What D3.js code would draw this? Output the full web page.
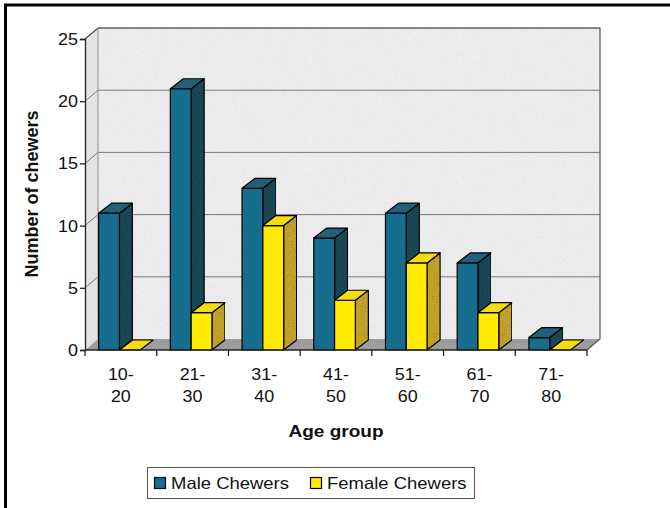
<!DOCTYPE html>
<html>
<head>
<meta charset="utf-8">
<script src="https://cdn.jsdelivr.net/npm/d3@7"></script>
<style>
  html, body { margin: 0; padding: 0; background: #fff; }
  svg { display: block; }
  text { font-family: "Liberation Sans", Arial, sans-serif; fill: #111; }
</style>
</head>
<body>
<svg id="chart" width="670" height="508"></svg>
<script>
// Chewers by age group
const categories = ["10-20", "21-30", "31-40", "41-50", "51-60", "61-70", "71-80"];
const maleValues = [11, 21, 13, 9, 11, 7, 1];
const femaleValues = [0, 3, 10, 4, 7, 3, 0];
const yTicks = [0, 5, 10, 15, 20, 25];
const seriesNames = ["Male Chewers", "Female Chewers"];

const svg = d3.select("#chart");
const W = 670, H = 508;

// plot geometry (front plane + depth offset of the 3-D box)
const plotLeft = 85, plotRight = 587, plotBase = 350, plotTop = 39;
const wallDx = 13, wallDy = -11;
const barDx = 13, barDy = -10;
const sx = 1.12; // horizontal text stretch

const x = d3.scaleBand().domain(categories).range([plotLeft, plotRight]).padding(0);
const y = d3.scaleLinear().domain([0, 25]).range([plotBase, plotTop]);

const palette = {
  male:   { front: "#176d8d", top: "#21607a", side: "#1c4756" },
  female: { front: "#ffea00", top: "#f3dc12", side: "#c2a22c" }
};

// speckle textures: light one for walls, stronger one for shaded faces
const defs = svg.append("defs");
function makeGrain(id, gray, gain, offset) {
  const f = defs.append("filter").attr("id", id)
    .attr("x", 0).attr("y", 0).attr("width", 1).attr("height", 1);
  f.append("feTurbulence").attr("type", "fractalNoise")
    .attr("baseFrequency", 0.9).attr("numOctaves", 2).attr("seed", 4).attr("result", "noise");
  f.append("feColorMatrix").attr("in", "noise").attr("type", "matrix")
    .attr("values", `0 0 0 0 ${gray}  0 0 0 0 ${gray}  0 0 0 0 ${gray}  0 0 0 ${gain} ${offset}`).attr("result", "dots");
  f.append("feComposite").attr("in", "dots").attr("in2", "SourceGraphic").attr("operator", "in").attr("result", "clipped");
  f.append("feMerge").selectAll("feMergeNode").data(["SourceGraphic", "clipped"]).join("feMergeNode")
    .attr("in", d => d);
}
makeGrain("grainWall", 0.55, -1.3, 0.55);
makeGrain("grain", 0, -1.4, 0.62);

const pts = a => a.map(p => p.join(",")).join(" ");

// outer frame
svg.append("rect").attr("x", 5.5).attr("y", 5).attr("width", W + 10).attr("height", H + 10)
  .attr("fill", "none").attr("stroke", "#000").attr("stroke-width", 3);

const box = svg.append("g");

// back wall
box.append("polygon")
  .attr("points", pts([[plotLeft + wallDx, plotTop + wallDy], [plotRight + wallDx, plotTop + wallDy],
                       [plotRight + wallDx, plotBase + wallDy], [plotLeft + wallDx, plotBase + wallDy]]))
  .attr("fill", "#ececec").attr("filter", "url(#grainWall)");
// left side wall
box.append("polygon")
  .attr("points", pts([[plotLeft, plotTop], [plotLeft + wallDx, plotTop + wallDy],
                       [plotLeft + wallDx, plotBase + wallDy], [plotLeft, plotBase]]))
  .attr("fill", "#e4e4e4").attr("filter", "url(#grainWall)");
// floor
box.append("polygon")
  .attr("points", pts([[plotLeft, plotBase], [plotLeft + wallDx, plotBase + wallDy],
                       [plotRight + wallDx, plotBase + wallDy], [plotRight, plotBase]]))
  .attr("fill", "#9d9d9d");

// gridlines on side wall and back wall
const grid = box.append("g").attr("stroke", "#7a7a7a").attr("stroke-width", 1).attr("fill", "none");
yTicks.filter(t => t > 0).forEach(t => {
  grid.append("polyline").attr("points", pts([[plotLeft, y(t)], [plotLeft + wallDx, y(t) + wallDy],
                                              [plotRight + wallDx, y(t) + wallDy]]));
});
// wall outlines
box.append("polyline")
  .attr("points", pts([[plotLeft, plotTop], [plotLeft + wallDx, plotTop + wallDy], [plotRight + wallDx, plotTop + wallDy],
                       [plotRight + wallDx, plotBase + wallDy], [plotRight, plotBase]]))
  .attr("fill", "none").attr("stroke", "#555").attr("stroke-width", 1.2);
box.append("line").attr("x1", plotLeft + wallDx).attr("x2", plotLeft + wallDx)
  .attr("y1", plotTop + wallDy).attr("y2", plotBase + wallDy).attr("stroke", "#8a8a8a");

// bars
const bw = x.bandwidth();
const barW = bw * 0.29;
const bars = [];
categories.forEach((c, i) => {
  const x0 = x(c) + bw * 0.19;
  bars.push({ x: x0, v: maleValues[i], s: "male" });
  bars.push({ x: x0 + barW, v: femaleValues[i], s: "female" });
});

const barG = svg.append("g").attr("stroke", "#000").attr("stroke-width", 1.2).attr("stroke-linejoin", "round");
bars.forEach(b => {
  const g = barG.append("g");
  const yv = y(b.v), col = palette[b.s];
  if (b.v > 0) {
    g.append("polygon")
      .attr("points", pts([[b.x + barW, yv], [b.x + barW + barDx, yv + barDy],
                           [b.x + barW + barDx, plotBase + barDy], [b.x + barW, plotBase]]))
      .attr("fill", col.side).attr("filter", "url(#grain)");
    g.append("rect").attr("x", b.x).attr("y", yv).attr("width", barW).attr("height", plotBase - yv)
      .attr("fill", col.front);
  }
  g.append("polygon")
    .attr("points", pts([[b.x, yv], [b.x + barDx, yv + barDy],
                         [b.x + barW + barDx, yv + barDy], [b.x + barW, yv]]))
    .attr("fill", col.top);
});

// text helper with horizontal stretch
function label(g, tx, ty, str, opts = {}) {
  return g.append("text")
    .attr("transform", `translate(${tx},${ty}) scale(${opts.noStretch ? 1 : sx},1)` + (opts.rotate ? ` rotate(${opts.rotate})` : ""))
    .attr("text-anchor", opts.anchor || "middle")
    .attr("font-size", opts.size || 16)
    .attr("font-weight", opts.bold ? "bold" : "normal")
    .text(str);
}

// y axis
const yAxis = svg.append("g").attr("transform", `translate(${plotLeft},0)`)
  .call(d3.axisLeft(y).tickValues(yTicks).tickSize(5).tickPadding(4).tickFormat(d3.format("d")));
yAxis.select(".domain").attr("stroke", "#222").attr("stroke-width", 1.3);
yAxis.selectAll(".tick line").attr("stroke", "#222").attr("stroke-width", 1.3);
yAxis.selectAll(".tick text").remove();
const yLab = svg.append("g");
yTicks.forEach(t => label(yLab, plotLeft - 7, y(t) + 6, String(t), { anchor: "end" }));

// x axis: front floor edge with boundary ticks
const xAxis = svg.append("g").attr("stroke", "#222").attr("stroke-width", 1.3);
xAxis.append("line").attr("x1", plotLeft).attr("x2", plotRight).attr("y1", plotBase).attr("y2", plotBase);
categories.map(c => x(c)).concat([plotRight]).forEach(px => {
  xAxis.append("line").attr("x1", px).attr("x2", px).attr("y1", plotBase).attr("y2", plotBase + 6);
});
const xLab = svg.append("g");
categories.forEach(c => {
  const [a, b] = c.split("-");
  const cx = x(c) + bw / 2;
  label(xLab, cx, 380, a + "-");
  label(xLab, cx, 402, b);
});

// axis titles
label(svg, 336, 437, "Age group", { bold: true, size: 17 });
label(svg, 38, 194, "Number of chewers", { bold: true, size: 18, rotate: -90, noStretch: true });

// legend
const lg = svg.append("g");
lg.append("rect").attr("x", 147.5).attr("y", 467.5).attr("width", 327).attr("height", 31)
  .attr("fill", "#fff").attr("stroke", "#555").attr("stroke-width", 1);
const legendItems = [
  { name: seriesNames[0], s: "male", sq: 154, tx: 171 },
  { name: seriesNames[1], s: "female", sq: 310, tx: 327 }
];
legendItems.forEach(it => {
  lg.append("rect").attr("x", it.sq + 0.5).attr("y", 477.5).attr("width", 11).attr("height", 11)
    .attr("fill", palette[it.s].front).attr("stroke", "#000").attr("stroke-width", 1.2);
  label(lg, it.tx, 489, it.name, { anchor: "start", size: 16.5 });
});
</script>
</body>
</html>
